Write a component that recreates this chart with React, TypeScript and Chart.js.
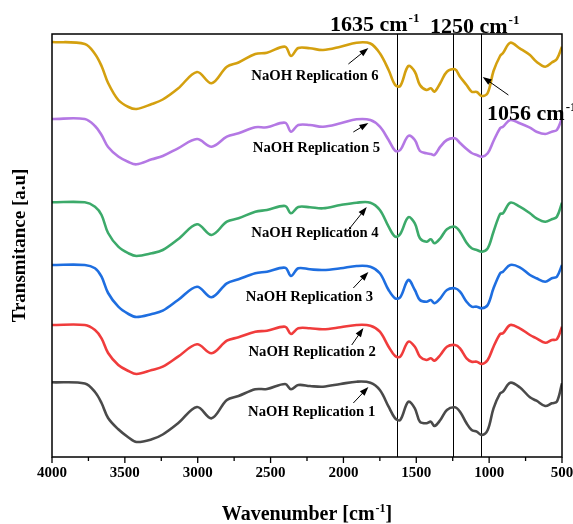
import React, { useEffect, useRef } from "react";
import { Chart, registerables } from "chart.js";

Chart.register(...registerables);

const WAVENUMBER = [4000, 3775, 3705, 3660, 3615, 3545, 3475, 3420, 3315, 3240, 3135, 3005, 2905, 2800, 2720, 2605, 2525, 2400, 2360, 2310, 2230, 2140, 2020, 1910, 1815, 1750, 1690, 1645, 1610, 1555, 1510, 1475, 1430, 1400, 1375, 1335, 1290, 1235, 1200, 1155, 1120, 1085, 1050, 1010, 970, 925, 905, 855, 790, 720, 675, 615, 570, 535, 500];

const REP1 = [74.7, 73.5, 65, 54, 39, 27.7, 19.5, 15, 17.7, 22.5, 33.7, 50, 38.7, 57, 61, 67.7, 68, 73, 67.7, 72, 71, 70.3, 73, 75.3, 74.3, 67, 50.3, 38.7, 37, 55.3, 48.7, 35.3, 33.7, 35.3, 31, 37, 47, 49.7, 45.3, 33.7, 27, 25.3, 22, 27, 48.7, 63.7, 65.3, 74.3, 69.7, 59.7, 56.3, 51, 53.7, 55.3, 73.7];
const REP2 = [132, 132, 127, 118.7, 104, 92, 86, 83, 87, 90.3, 100.3, 112.7, 103.7, 116.3, 119.7, 125.3, 126.3, 130.3, 123, 128.7, 128.7, 127.7, 129.7, 132, 131.3, 125.3, 110.3, 101, 100.3, 115.3, 110.3, 100.3, 97, 98.7, 96.3, 102, 110.3, 112, 108.7, 98.7, 95.3, 95.3, 93, 97, 110.3, 123, 123.7, 132, 128.7, 122, 118.7, 114.3, 117, 117.7, 130.3];
const REP3 = [192, 192, 188.7, 180.3, 164, 150.3, 143, 140, 143, 146.3, 157, 170.3, 159.7, 173.7, 177.7, 183.7, 185.3, 189.3, 181, 188.7, 187.7, 187, 188.7, 191, 190.3, 183.7, 167, 158.7, 159.7, 177, 167, 157, 155.3, 157, 153.7, 158.7, 167, 168.7, 165.3, 155.3, 150.3, 150.3, 148.7, 152, 168.7, 183.7, 185.3, 192, 189.7, 182, 178.7, 175.3, 178.7, 180.3, 192];
const REP4 = [254.7, 254.7, 250.3, 242, 224, 210.3, 203.7, 201, 203.7, 207, 217.7, 232.7, 222, 235.3, 238.7, 245.3, 247, 251, 243.7, 250, 249.7, 248.7, 252, 254.3, 254.3, 247, 230.3, 220.3, 223, 239.7, 233.7, 218.7, 215.3, 217.7, 213.7, 218.7, 227.7, 230.3, 225.3, 214.3, 208.7, 207, 205.3, 208.7, 225.3, 243, 243.7, 254.3, 250.3, 243.7, 238.7, 235.3, 237.7, 240.3, 254.3];
const REP5 = [338, 338, 331, 322, 310, 300.5, 295, 292.7, 297.7, 301, 308.7, 318, 310.3, 320.3, 323.7, 329.7, 329.7, 334.3, 325.3, 332, 332, 330.3, 333.7, 337.7, 337, 330.3, 317, 306.3, 307, 321, 317, 306, 303.7, 303, 302, 310.3, 317, 318.7, 314, 308, 304, 302, 300.3, 303.7, 316, 328.7, 330.3, 337, 333.7, 329.3, 325.3, 323, 325.3, 327, 338.7];
const REP6 = [415, 413, 403, 391, 374, 357, 350, 348, 353, 357.5, 368.5, 385, 373.7, 390.3, 394.5, 403, 404.3, 410.3, 401, 409, 408.7, 407, 410.3, 414.3, 413.5, 403.7, 387, 372, 371, 391, 385.3, 372, 367, 368.7, 365.3, 374, 385.3, 387.7, 380.3, 372, 365.3, 365, 361, 364, 386, 401, 404, 414.3, 408.7, 402, 395.3, 390.3, 394.5, 398, 410.3];

const SERIES = [REP1, REP2, REP3, REP4, REP5, REP6];
const SERIES_NAMES = ["NaOH Replication 1", "NaOH Replication 2", "NaOH Replication 3", "NaOH Replication 4", "NaOH Replication 5", "NaOH Replication 6"];
const COLORS = ["#4a4a4a", "#f03c3c", "#1e6ee0", "#3caa6a", "#b478e4", "#d4a00f"];

// label anchors (wavenumber, value) and arrow start/end
const LABEL_X = [2218, 2215, 2233, 2195, 2185, 2195];
const LABEL_Y = [45, 105, 160, 224, 309, 381];
const ARROW_FROM_X = [1932, 1943, 1932, 1977, 1932, 1966];
const ARROW_FROM_Y = [54, 112, 169, 225, 325, 393];
const ARROW_TO_X = [1829, 1863, 1829, 1840, 1829, 1829];
const ARROW_TO_Y = [70, 129, 185, 250, 334, 409];

const PEAKS = [1635, 1250, 1056];
const PEAK_TEXT_X = [2092, 1406, 1014];
const PEAK_TEXT_Y = [426, 424, 337];
const PEAK_ARROW = [868, 362, 1044, 380];

const X_TICKS = [4000, 3500, 3000, 2500, 2000, 1500, 1000, 500];

const FONT = "'Liberation Serif', 'Times New Roman', serif";

function drawSup(ctx: CanvasRenderingContext2D, base: string, sup: string, x: number, y: number, size: number) {
  ctx.font = `bold ${size}px ${FONT}`;
  const bw = ctx.measureText(base).width;
  const ss = Math.round(size * 0.6);
  ctx.textAlign = "left";
  ctx.textBaseline = "alphabetic";
  ctx.fillText(base, x, y);
  ctx.font = `bold ${ss}px ${FONT}`;
  const sw = ctx.measureText(sup).width;
  ctx.fillText(sup, x + bw + 1, y - size * 0.42);
  return x + bw + 1 + sw;
}

function arrow(ctx: CanvasRenderingContext2D, x1: number, y1: number, x2: number, y2: number) {
  const ang = Math.atan2(y2 - y1, x2 - x1);
  const hl = 9;
  const hw = 3.2;
  ctx.strokeStyle = "#000";
  ctx.lineWidth = 1;
  ctx.beginPath();
  ctx.moveTo(x1, y1);
  ctx.lineTo(x2 - Math.cos(ang) * hl * 0.8, y2 - Math.sin(ang) * hl * 0.8);
  ctx.stroke();
  ctx.fillStyle = "#000";
  ctx.beginPath();
  ctx.moveTo(x2, y2);
  ctx.lineTo(x2 - Math.cos(ang) * hl - Math.sin(ang) * hw, y2 - Math.sin(ang) * hl + Math.cos(ang) * hw);
  ctx.lineTo(x2 - Math.cos(ang) * hl + Math.sin(ang) * hw, y2 - Math.sin(ang) * hl - Math.cos(ang) * hw);
  ctx.closePath();
  ctx.fill();
}

const decor = {
  id: "decor",
  beforeDatasetsDraw(chart: any) {
    const { ctx, chartArea, scales } = chart;
    ctx.save();
    ctx.strokeStyle = "#000";
    ctx.lineWidth = 1;
    PEAKS.forEach((p) => {
      const x = Math.round(scales.x.getPixelForValue(p)) + 0.5;
      ctx.beginPath();
      ctx.moveTo(x, chartArea.top);
      ctx.lineTo(x, chartArea.bottom);
      ctx.stroke();
    });
    ctx.restore();
  },
  afterDraw(chart: any) {
    const { ctx, chartArea, scales } = chart;
    const xs = scales.x;
    const ys = scales.y;
    ctx.save();
    // frame
    ctx.strokeStyle = "#000";
    ctx.lineWidth = 1.5;
    ctx.strokeRect(chartArea.left, chartArea.top, chartArea.right - chartArea.left, chartArea.bottom - chartArea.top);
    // ticks
    ctx.lineWidth = 1.3;
    for (let v = 500; v <= 4000; v += 250) {
      const x = xs.getPixelForValue(v);
      const len = v % 500 === 0 ? 6 : 4;
      ctx.beginPath();
      ctx.moveTo(x, chartArea.bottom);
      ctx.lineTo(x, chartArea.bottom + len);
      ctx.stroke();
    }
    // series labels & arrows
    SERIES_NAMES.forEach((n, i) => {
      ctx.font = `bold 14.7px ${FONT}`;
      ctx.textAlign = "center";
      ctx.textBaseline = "middle";
      ctx.fillStyle = "#000";
      const lx = xs.getPixelForValue(LABEL_X[i]);
      const ly = ys.getPixelForValue(LABEL_Y[i]);
      ctx.fillText(n, lx, ly);
      arrow(ctx, xs.getPixelForValue(ARROW_FROM_X[i]), ys.getPixelForValue(ARROW_FROM_Y[i]), xs.getPixelForValue(ARROW_TO_X[i]), ys.getPixelForValue(ARROW_TO_Y[i]));
    });
    // peak annotations
    ctx.fillStyle = "#000";
    PEAKS.forEach((p, i) => {
      drawSup(ctx, `${p} cm`, "-1", xs.getPixelForValue(PEAK_TEXT_X[i]), ys.getPixelForValue(PEAK_TEXT_Y[i]), 22);
    });
    arrow(ctx, xs.getPixelForValue(PEAK_ARROW[0]), ys.getPixelForValue(PEAK_ARROW[1]), xs.getPixelForValue(PEAK_ARROW[2]), ys.getPixelForValue(PEAK_ARROW[3]));
    // x axis title
    const cx = (chartArea.left + chartArea.right) / 2;
    ctx.font = `bold 20px ${FONT}`;
    const bw = ctx.measureText("Wavenumber [cm").width;
    const bracket = ctx.measureText("]").width;
    ctx.font = `bold 12px ${FONT}`;
    const sw = ctx.measureText("-1").width;
    const left = cx - (bw + 1 + sw + bracket) / 2;
    const end = drawSup(ctx, "Wavenumber [cm", "-1", left, 520, 20);
    ctx.font = `bold 20px ${FONT}`;
    ctx.fillText("]", end, 520);
    // y axis title
    ctx.save();
    ctx.translate(20, (chartArea.top + chartArea.bottom) / 2);
    ctx.rotate(-Math.PI / 2);
    ctx.font = `bold 19px ${FONT}`;
    ctx.textAlign = "center";
    ctx.textBaseline = "middle";
    ctx.fillText("Transmitance [a.u]", 0, 0);
    ctx.restore();
    ctx.restore();
  },
};

export default function App() {
  const ref = useRef<HTMLCanvasElement>(null);
  useEffect(() => {
    if (!ref.current) return;
    const chart = new Chart(ref.current, {
      type: "line",
      data: {
        datasets: SERIES.map((s, i) => ({
          label: SERIES_NAMES[i],
          data: WAVENUMBER.map((w, j) => ({ x: w, y: s[j] })),
          borderColor: COLORS[i],
          borderWidth: 2.6,
          pointRadius: 0,
          tension: 0.35,
          fill: false,
        })),
      },
      options: {
        animation: false,
        responsive: false,
        devicePixelRatio: 1,
        layout: { padding: { left: 52, right: 11, top: 34, bottom: 0 } },
        plugins: { legend: { display: false }, tooltip: { enabled: false } },
        scales: {
          x: {
            type: "linear",
            reverse: true,
            min: 500,
            max: 4000,
            afterBuildTicks: (axis: any) => {
              axis.ticks = X_TICKS.map((v) => ({ value: v }));
            },
            afterFit: (axis: any) => {
              axis.height = 67;
              axis.paddingLeft = 0;
              axis.paddingRight = 0;
            },
            grid: { display: false, drawTicks: false, tickLength: 0 },
            border: { display: false },
            ticks: {
              autoSkip: false,
              maxRotation: 0,
              padding: 7,
              color: "#000",
              font: { family: FONT, size: 15, weight: "bold" },
              callback: (v: any) => String(v),
            },
          },
          y: {
            display: false,
            min: 0,
            max: 423,
          },
        },
      },
      plugins: [decor],
    });
    return () => chart.destroy();
  }, []);
  return (
    <div style={{ position: "absolute", left: 0, top: 0, width: 573, height: 524, background: "#fff" }}>
      <canvas ref={ref} width={573} height={524} />
    </div>
  );
}
